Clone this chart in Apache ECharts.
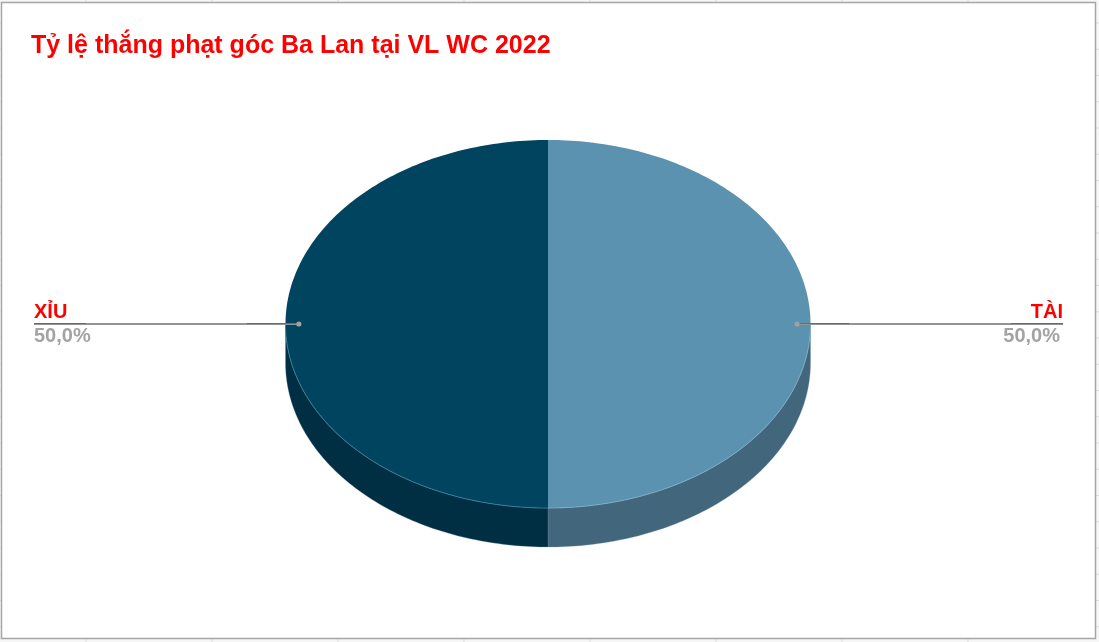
<!DOCTYPE html>
<html>
<head>
<meta charset="utf-8">
<style>html,body{margin:0;padding:0;background:#f6f6f6}#c{width:1099px;height:642px}</style>
<script src="https://cdn.jsdelivr.net/npm/echarts@6/dist/echarts.min.js"></script>
</head>
<body>
<div id="c"></div>
<script>
const titleText = 'Tỷ lệ thắng phạt góc Ba Lan tại VL WC 2022';
const categories = ['TÀI', 'XỈU'];
const values = [50, 50];
const topColors = ['#5A92B0', '#00445F'];
const wallColors = ['#42677D', '#002E43'];
const rimColors = ['#7FB0C8', '#3F7F9C'];

const total = values.reduce((a, b) => a + b, 0);
const cx = 548, cy = 324, rx = 262.5, ry = 184, depth = 39;
const pt = (a, k, dy) => [cx + rx * k * Math.sin(a), cy - ry * k * Math.cos(a) + (dy || 0)];
const fmt = v => (v / total * 100).toFixed(1).replace('.', ',') + '%';

function renderItem(params, api) {
  const i = params.dataIndex;
  let before = 0;
  for (let j = 0; j < i; j++) before += values[j];
  const a0 = before / total * 2 * Math.PI;
  const a1 = (before + api.value(0)) / total * 2 * Math.PI;
  const n = 180;
  const top = [[cx, cy]];
  const rim = [];
  for (let k = 0; k <= n; k++) {
    const a = a0 + (a1 - a0) * k / n;
    top.push(pt(a, 1));
    if (Math.cos(a) <= 1e-6) rim.push(a);
  }
  const rimPts = rim.map(a => pt(a, 1));
  const wall = rimPts.concat(rim.slice().reverse().map(a => pt(a, 1, depth)));
  const mid = (a0 + a1) / 2;
  const inner = pt(mid, 0.949);
  const right = Math.sin(mid) > 0;
  const dir = right ? 1 : -1;
  const endX = right ? 1063 : 34;
  const align = right ? 'right' : 'left';
  const lineCol = '#939393', darkCol = '#6B6B6B';
  const seg = (x1, x2) => ({ type: 'line', shape: { x1: x1, y1: cy - 0.5, x2: x2, y2: cy - 0.5 }, style: { stroke: darkCol, lineWidth: 1 } });
  return {
    type: 'group',
    children: [
      { type: 'polygon', shape: { points: wall }, style: { fill: wallColors[i], stroke: '#6E93A8', lineWidth: 0.3 } },
      { type: 'polygon', shape: { points: top }, style: { fill: topColors[i] } },
      { type: 'polyline', shape: { points: rimPts }, style: { fill: 'none', stroke: rimColors[i], lineWidth: 0.8 } },
      { type: 'line', shape: { x1: inner[0], y1: cy, x2: endX, y2: cy }, style: { stroke: lineCol, lineWidth: 2 } },
      seg(inner[0], inner[0] + dir * 52),
      seg(endX, endX - dir * 52),
      { type: 'circle', shape: { cx: inner[0], cy: inner[1], r: 2.6 }, style: { fill: '#A0A0A0' } },
      { type: 'text', x: endX, y: 322, style: { text: api.value(1), fill: '#FF0000', font: 'bold 20px "Liberation Sans"', align: align, verticalAlign: 'bottom' } },
      { type: 'text', x: right ? endX - 3 : endX, y: 326, style: { text: fmt(api.value(0)), fill: '#A3A3A3', font: 'bold 20px "Liberation Sans"', align: align, verticalAlign: 'top' } }
    ]
  };
}

const gridLines = [];
[86, 212, 338, 464, 590, 716, 842, 968].forEach(x => {
  gridLines.push({ type: 'line', shape: { x1: x, y1: 0, x2: x, y2: 642 }, style: { stroke: '#DDDDDD', lineWidth: 1 }, z: 0 });
});
for (let y = 23; y < 642; y += 26.25) {
  gridLines.push({ type: 'line', shape: { x1: 0, y1: y, x2: 1099, y2: y }, style: { stroke: '#DDDDDD', lineWidth: 1 }, z: 0 });
}

const chart = echarts.init(document.getElementById('c'), null, { renderer: 'canvas', width: 1099, height: 642 });
chart.setOption({
  animation: false,
  backgroundColor: '#F6F6F6',
  title: {
    text: titleText, left: 26, top: 29,
    textStyle: { color: '#FF0000', fontFamily: 'Liberation Sans', fontWeight: 'bold', fontSize: 25 }
  },
  graphic: gridLines.concat([
    { type: 'rect', shape: { x: 1.5, y: 2.5, width: 1094, height: 636 }, style: { fill: '#FFFFFF', stroke: '#A6A6A6', lineWidth: 1.5 }, z: 1 }
  ]),
  series: [{
    type: 'custom',
    coordinateSystem: 'none',
    renderItem: renderItem,
    data: categories.map((c, i) => [values[i], c]),
    encode: { value: 0 },
    dimensions: ['value', { name: 'name', type: 'ordinal' }],
    silent: true,
    z: 5
  }]
});
</script>
</body>
</html>
